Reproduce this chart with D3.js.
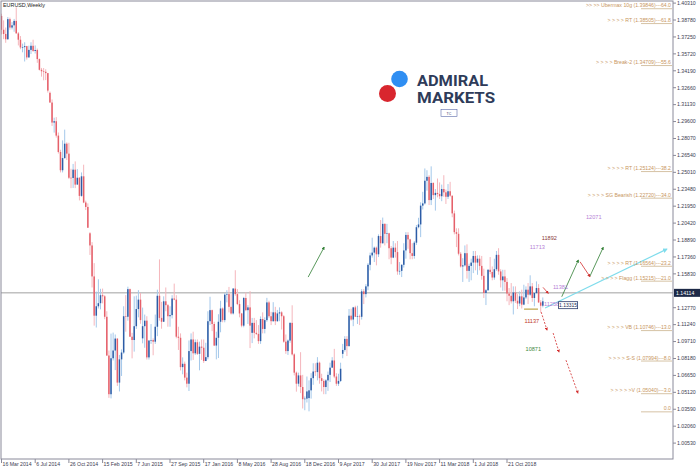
<!DOCTYPE html>
<meta charset="utf-8">
<style>
body { margin: 0; background: #fff; }
svg { display: block; font-family: "Liberation Sans", Arial, sans-serif; }
.ylab, .xlab { fill: #3c3c50; font-size: 5.2px; }
.fib { fill: #c8965e; font-size: 5.2px; }
</style>
<body>
<script src="https://cdn.jsdelivr.net/npm/d3@7"></script>
<script>
// EURUSD weekly bars, first bar = week of 16 Mar 2014
var open = [
 1.3915,1.3790,1.3752,1.3704,1.3886,1.3810,1.3830,1.3870,1.3757,1.3700,
 1.3630,1.3633,1.3642,1.3540,1.3608,1.3645,1.3598,1.3607,1.3525,1.3428,
 1.3415,1.3410,1.3398,1.3220,1.3132,1.2951,1.2963,1.2833,1.2685,1.2520,
 1.2630,1.2760,1.2670,1.2452,1.2450,1.2525,1.2390,1.2452,1.2288,1.2465,
 1.2228,1.2188,1.1950,1.1840,1.1560,1.1205,1.1290,1.1318,1.1390,1.1380,
 1.1195,1.0845,1.0495,1.0820,1.0890,1.0998,1.0600,1.0810,1.0872,1.1200,
 1.1195,1.1445,1.1015,1.0985,1.1110,1.1265,1.1350,1.1000,1.1110,1.1160,
 1.0828,1.0980,1.0985,1.0970,1.1105,1.1385,1.1185,1.1150,1.1335,1.1300,
 1.1200,1.1210,1.1360,1.1350,1.1015,1.1005,1.0740,1.0770,1.0645,1.0590,
 1.0885,1.0990,1.0865,1.0965,1.0860,1.0925,1.0915,1.0795,1.0830,1.1155,
 1.1255,1.1130,1.0935,1.1005,1.1150,1.1270,1.1165,1.1395,1.1400,1.1285,
 1.1225,1.1450,1.1400,1.1310,1.1225,1.1115,1.1365,1.1255,1.1280,1.1050,
 1.1140,1.1050,1.1040,1.0975,1.1175,1.1085,1.1165,1.1325,1.1200,1.1155,
 1.1235,1.1155,1.1225,1.1235,1.1200,1.0970,1.0885,1.0980,1.1140,1.0855,
 1.0690,1.0590,1.0665,1.0560,1.0450,1.0455,1.0460,1.0530,1.0640,1.0700,
 1.0695,1.0780,1.0640,1.0615,1.0560,1.0620,1.0670,1.0735,1.0800,1.0655,
 1.0590,1.0615,1.0860,1.0895,1.0995,1.0930,1.1205,1.1170,1.1280,1.1195,
 1.1200,1.1195,1.1425,1.1400,1.1470,1.1665,1.1750,1.1775,1.1820,1.1760,
 1.1925,1.1860,1.2035,1.1945,1.1950,1.1815,1.1730,1.1820,1.1780,1.1605,
 1.1610,1.1665,1.1795,1.1935,1.1895,1.1770,1.1745,1.1865,1.2005,1.2030,
 1.2200,1.2220,1.2425,1.2460,1.2250,1.2405,1.2295,1.2315,1.2305,1.2285,
 1.2350,1.2320,1.2280,1.2330,1.2290,1.2130,1.1960,1.1945,1.1765,1.1650,
 1.1660,1.1770,1.1610,1.1655,1.1685,1.1745,1.1685,1.1720,1.1655,1.1565,
 1.1410,1.1435,1.1620,1.1600,1.1550,1.1625,1.1755,1.1605,1.1525,1.1560,
 1.1510,1.1405,1.1385,1.1335,1.1415,1.1340,1.1315,1.1380,1.1305,1.1370,
 1.1440,1.1395,1.1470,1.1365,1.1410,1.1455,1.1325,1.1295];
var high = [
 1.3935,1.3875,1.3810,1.3905,1.3900,1.3859,1.3888,1.3993,1.3770,1.3733,
 1.3665,1.3677,1.3645,1.3646,1.3677,1.3700,1.3648,1.3620,1.3530,1.3445,
 1.3444,1.3433,1.3400,1.3232,1.3160,1.2995,1.3000,1.2861,1.2705,1.2790,
 1.2887,1.2772,1.2768,1.2533,1.2577,1.2600,1.2530,1.2457,1.2500,1.2570,
 1.2245,1.2220,1.1960,1.1870,1.1680,1.1423,1.1534,1.1448,1.1450,1.1390,
 1.1245,1.0890,1.1043,1.1052,1.1035,1.1000,1.0850,1.0900,1.1290,1.1391,
 1.1467,1.1450,1.1050,1.1380,1.1386,1.1436,1.1410,1.1278,1.1215,1.1200,
 1.0985,1.1129,1.1000,1.1215,1.1440,1.1714,1.1330,1.1380,1.1460,1.1310,
 1.1290,1.1390,1.1495,1.1390,1.1105,1.1045,1.0828,1.0790,1.0690,1.0981,
 1.1045,1.1060,1.0990,1.0990,1.0970,1.0990,1.0990,1.0960,1.1245,1.1376,
 1.1260,1.1150,1.1060,1.1218,1.1340,1.1280,1.1410,1.1435,1.1465,1.1400,
 1.1455,1.1616,1.1445,1.1345,1.1230,1.1375,1.1415,1.1300,1.1427,1.1185,
 1.1185,1.1165,1.1120,1.1198,1.1235,1.1190,1.1366,1.1340,1.1240,1.1327,
 1.1285,1.1257,1.1280,1.1245,1.1210,1.1035,1.0990,1.1145,1.1299,1.0865,
 1.0700,1.0690,1.0875,1.0670,1.0475,1.0655,1.0620,1.0685,1.0775,1.0775,
 1.0830,1.0790,1.0680,1.0630,1.0630,1.0700,1.0780,1.0830,1.0905,1.0685,
 1.0680,1.0780,1.0950,1.1020,1.1020,1.1265,1.1268,1.1285,1.1295,1.1295,
 1.1215,1.1445,1.1445,1.1490,1.1680,1.1775,1.1910,1.1830,1.1830,1.1940,
 1.2070,1.2092,1.2040,1.2035,1.1955,1.1835,1.1880,1.1860,1.1880,1.1690,
 1.1670,1.1860,1.1960,1.1960,1.1900,1.1860,1.1880,1.2025,1.2090,1.2230,
 1.2325,1.2536,1.2520,1.2475,1.2555,1.2410,1.2350,1.2445,1.2410,1.2390,
 1.2475,1.2345,1.2395,1.2415,1.2290,1.2155,1.1995,1.1995,1.1780,1.1725,
 1.1840,1.1850,1.1675,1.1720,1.1790,1.1790,1.1750,1.1750,1.1745,1.1630,
 1.1445,1.1625,1.1735,1.1650,1.1720,1.1790,1.1815,1.1625,1.1620,1.1620,
 1.1545,1.1455,1.1500,1.1470,1.1470,1.1400,1.1425,1.1440,1.1485,1.1470,
 1.1500,1.1570,1.1500,1.1415,1.1515,1.1490,1.1345,1.1370];
var low = [
 1.3748,1.3705,1.3672,1.3700,1.3790,1.3793,1.3772,1.3757,1.3648,1.3614,
 1.3586,1.3503,1.3520,1.3537,1.3571,1.3590,1.3575,1.3491,1.3422,1.3366,
 1.3333,1.3335,1.3222,1.3131,1.2920,1.2860,1.2815,1.2671,1.2500,1.2500,
 1.2623,1.2612,1.2440,1.2358,1.2360,1.2358,1.2390,1.2247,1.2280,1.2222,
 1.2160,1.2000,1.1754,1.1460,1.1115,1.1098,1.1270,1.1262,1.1316,1.1173,
 1.0840,1.0462,1.0457,1.0800,1.0713,1.0570,1.0520,1.0660,1.0860,1.1060,
 1.1160,1.1013,1.0819,1.0880,1.1085,1.1190,1.1132,1.0955,1.0915,1.0808,
 1.0808,1.0950,1.0847,1.0950,1.1020,1.1160,1.1087,1.1150,1.1245,1.1105,
 1.1105,1.1180,1.1345,1.1000,1.0895,1.0710,1.0675,1.0620,1.0557,1.0524,
 1.0800,1.0805,1.0850,1.0850,1.0711,1.0805,1.0778,1.0795,1.0810,1.1120,
 1.1065,1.0930,1.0810,1.0822,1.1055,1.1145,1.1145,1.1325,1.1235,1.1215,
 1.1215,1.1385,1.1300,1.1190,1.1100,1.1100,1.1245,1.1130,1.0912,1.0957,
 1.1000,1.1030,1.0950,1.0950,1.1045,1.1045,1.1150,1.1185,1.1120,1.1150,
 1.1120,1.1150,1.1155,1.1080,1.0960,1.0860,1.0850,1.0960,1.0845,1.0665,
 1.0518,1.0565,1.0505,1.0366,1.0350,1.0420,1.0340,1.0455,1.0580,1.0660,
 1.0620,1.0590,1.0520,1.0495,1.0495,1.0525,1.0605,1.0735,1.0640,1.0570,
 1.0570,1.0605,1.0820,1.0880,1.0840,1.0925,1.1160,1.1110,1.1195,1.1130,
 1.1120,1.1170,1.1310,1.1370,1.1435,1.1615,1.1730,1.1690,1.1660,1.1735,
 1.1820,1.1855,1.1840,1.1860,1.1715,1.1670,1.1725,1.1730,1.1575,1.1575,
 1.1554,1.1640,1.1720,1.1810,1.1715,1.1715,1.1720,1.1845,1.1995,1.1915,
 1.2165,1.2210,1.2335,1.2205,1.2205,1.2260,1.2155,1.2275,1.2260,1.2240,
 1.2280,1.2215,1.2260,1.2280,1.2095,1.1940,1.1825,1.1750,1.1640,1.1510,
 1.1650,1.1540,1.1510,1.1525,1.1590,1.1615,1.1575,1.1615,1.1530,1.1365,
 1.1301,1.1430,1.1580,1.1525,1.1530,1.1610,1.1575,1.1460,1.1430,1.1430,
 1.1335,1.1300,1.1315,1.1216,1.1320,1.1265,1.1290,1.1270,1.1300,1.1355,
 1.1310,1.1385,1.1330,1.1290,1.1400,1.1320,1.1235,1.1280];
var close = [
 1.3790,1.3752,1.3704,1.3886,1.3810,1.3830,1.3870,1.3757,1.3700,1.3630,
 1.3633,1.3642,1.3540,1.3608,1.3645,1.3598,1.3607,1.3525,1.3428,1.3415,
 1.3410,1.3398,1.3240,1.3132,1.2951,1.2963,1.2833,1.2685,1.2520,1.2630,
 1.2760,1.2670,1.2452,1.2450,1.2525,1.2390,1.2452,1.2288,1.2465,1.2228,
 1.2188,1.2000,1.1840,1.1560,1.1205,1.1290,1.1318,1.1390,1.1380,1.1195,
 1.0845,1.0495,1.0820,1.0890,1.0998,1.0600,1.0810,1.0872,1.1200,1.1195,
 1.1445,1.1015,1.0985,1.1110,1.1265,1.1350,1.1165,1.1110,1.1160,1.0828,
 1.0980,1.0985,1.0970,1.1105,1.1385,1.1185,1.1150,1.1335,1.1300,1.1200,
 1.1210,1.1360,1.1350,1.1015,1.1005,1.0740,1.0770,1.0645,1.0590,1.0885,
 1.0990,1.0865,1.0965,1.0860,1.0925,1.0915,1.0795,1.0830,1.1155,1.1255,
 1.1130,1.0935,1.1005,1.1150,1.1270,1.1165,1.1395,1.1400,1.1285,1.1225,
 1.1450,1.1400,1.1310,1.1225,1.1115,1.1365,1.1255,1.1280,1.1115,1.1140,
 1.1050,1.1040,1.0975,1.1175,1.1085,1.1165,1.1325,1.1200,1.1155,1.1235,
 1.1155,1.1225,1.1235,1.1200,1.0970,1.0885,1.0980,1.1140,1.0855,1.0690,
 1.0590,1.0665,1.0560,1.0450,1.0455,1.0520,1.0530,1.0640,1.0700,1.0695,
 1.0780,1.0640,1.0615,1.0560,1.0620,1.0670,1.0735,1.0800,1.0655,1.0590,
 1.0615,1.0725,1.0895,1.0995,1.0930,1.1205,1.1170,1.1280,1.1195,1.1200,
 1.1195,1.1425,1.1400,1.1470,1.1665,1.1750,1.1775,1.1820,1.1760,1.1925,
 1.1860,1.2035,1.1945,1.1950,1.1815,1.1730,1.1820,1.1780,1.1605,1.1610,
 1.1665,1.1795,1.1935,1.1895,1.1770,1.1745,1.1865,1.2005,1.2030,1.2200,
 1.2220,1.2425,1.2460,1.2250,1.2405,1.2295,1.2315,1.2305,1.2285,1.2350,
 1.2320,1.2280,1.2330,1.2290,1.2130,1.1960,1.1945,1.1765,1.1650,1.1660,
 1.1770,1.1610,1.1655,1.1685,1.1745,1.1685,1.1720,1.1655,1.1565,1.1410,
 1.1435,1.1620,1.1600,1.1550,1.1625,1.1755,1.1605,1.1525,1.1560,1.1510,
 1.1405,1.1385,1.1335,1.1415,1.1340,1.1315,1.1380,1.1305,1.1370,1.1440,
 1.1395,1.1470,1.1365,1.1410,1.1455,1.1325,1.1295,1.1335];

// price axis labels (1.14300 sits under the price box, so it is left out)
var yTicks = [1.40310,1.38780,1.37250,1.35720,1.34190,1.32660,1.31130,1.29600,1.28070,
  1.26540,1.25010,1.23480,1.21950,1.20420,1.18890,1.17360,1.15830,1.12770,
  1.11240,1.09710,1.08180,1.06650,1.05120,1.03590,1.02060,1.00530];
// date axis labels
var xTicks = ["16 Mar 2014","6 Jul 2014","26 Oct 2014","15 Feb 2015","7 Jun 2015",
  "27 Sep 2015","17 Jan 2016","8 May 2016","28 Aug 2016","18 Dec 2016","9 Apr 2017",
  "30 Jul 2017","19 Nov 2017","11 Mar 2018","1 Jul 2018","21 Oct 2018"];

// fibonacci level labels on the right
var fibText = [">> >> Ubermax 10g","> > > > RT","> > > > Break-2","> > > > RT","> > > > SG Bearish",
  "> > > > RT","> > > > Flagg","> > > > VB","> > > > S-S","> > > > >V"];
var fibPrice = [1.39846,1.38505,1.34709,1.25124,1.22720,1.16564,1.15215,1.10746,1.07994,1.05040];
var fibPct = ["64.0","61.8","55.6","38.2","34.0","23.2","21.0","13.0","8.0","3.0"];
var fibZero = 1.0340;

// target labels (week index from first bar, price)
var tgtText = ["11892","11713","12071","11381","11258","11137","10871"];
var tgtWeek = [256.5,250.8,277.5,261.8,257.6,248.3,248.8];
var tgtPrice = [1.1885,1.1810,1.2080,1.1450,1.1290,1.1140,1.0885];
var tgtColor = ["#8a3a3a","#b57fd6","#b57fd6","#b57fd6","#b57fd6","#c0392b","#3f8a3f"];

// arrows: [week0, price0, week1, price1]
var arrows = [
  {c:"green", d:[145.6,1.1554,153.2,1.1825]},
  {c:"green", d:[266.0,1.1376,273.9,1.1708]},
  {c:"red",   d:[274.7,1.1692,279.4,1.1557]},
  {c:"green", d:[279.4,1.1563,285.7,1.1823]},
  {c:"cyan",  d:[258.1,1.1274,315.9,1.1807]},
  {c:"red",   d:[256.2,1.1238,259.0,1.1075], dash:true},
  {c:"red",   d:[261.9,1.1048,264.7,1.0876], dash:true},
  {c:"red",   d:[268.0,1.0803,273.7,1.0504], dash:true},
  {c:"red",   d:[257.1,1.1461,259.6,1.1407]}
];
var hLinePrice = 1.14114;
var goldLine = [248.1,254.7,1.1264];
var boxPrice = "1.13315";

var W = 700, H = 471, plotR = 673, plotB = 459;
var WEEK = 7 * 864e5;
var t0 = new Date(2014, 2, 16);

var x = d3.scaleTime()
    .domain([t0, new Date(2018, 9, 21)])
    .range([1.5, 507]);
var y = d3.scaleLinear()
    .domain([1.00530, 1.40310])
    .range([443.1, 3.1]);

function wx(i) { return x(new Date(+t0 + i * WEEK)); }

var svg = d3.select("body").append("svg")
    .attr("width", W)
    .attr("height", H);

svg.append("rect").attr("width", W).attr("height", H).attr("fill", "#fff");

var defs = svg.append("defs");
var cols = {green: "#2e7d32", red: "#d32f2f", cyan: "#7fdcec"};
Object.keys(cols).forEach(function(k) {
  defs.append("marker")
      .attr("id", "ah-" + k)
      .attr("viewBox", "0 0 10 10")
      .attr("refX", 8).attr("refY", 5)
      .attr("markerWidth", 4).attr("markerHeight", 4)
      .attr("orient", "auto")
    .append("path")
      .attr("d", "M0,0L10,5L0,10z")
      .attr("fill", cols[k]);
});
defs.append("clipPath").attr("id", "plot")
  .append("rect").attr("x", 1).attr("y", 1).attr("width", plotR - 1).attr("height", plotB - 1);

// logo
var logo = svg.append("g");
logo.append("circle").attr("cx", 399.5).attr("cy", 79).attr("r", 8.3).attr("fill", "#2f8ef2");
logo.append("circle").attr("cx", 387.5).attr("cy", 93.5).attr("r", 8.5).attr("fill", "#d8262e");
logo.append("text").attr("x", 417).attr("y", 85.5).text("ADMIRAL")
    .attr("font-family", "Roboto, sans-serif").attr("font-weight", 700)
    .attr("font-size", 14.5).attr("fill", "#2e3b59")
    .attr("textLength", 71).attr("lengthAdjust", "spacingAndGlyphs");
logo.append("text").attr("x", 417).attr("y", 103).text("MARKETS")
    .attr("font-family", "Roboto, sans-serif").attr("font-weight", 700)
    .attr("font-size", 14.5).attr("fill", "#2e3b59")
    .attr("textLength", 78).attr("lengthAdjust", "spacingAndGlyphs");
logo.append("rect").attr("x", 441).attr("y", 109.5).attr("width", 16).attr("height", 7)
    .attr("fill", "none").attr("stroke", "#5b6aa8").attr("stroke-width", 0.6);
logo.append("text").attr("x", 449).attr("y", 114.6).attr("text-anchor", "middle")
    .attr("font-size", 3.6).attr("fill", "#33406a").text("TC");

var plot = svg.append("g").attr("clip-path", "url(#plot)");

// horizontal line
plot.append("line")
    .attr("x1", 1).attr("x2", plotR)
    .attr("y1", y(hLinePrice)).attr("y2", y(hLinePrice))
    .attr("stroke", "#a0a0a0").attr("stroke-width", 1);

// candles
var bars = d3.range(open.length).map(function(i) {
  return {i: i, o: open[i], h: high[i], l: low[i], c: close[i]};
});
var cg = plot.append("g");
cg.selectAll(".wick").data(bars).enter().append("line")
    .attr("x1", function(d) { return wx(d.i); })
    .attr("x2", function(d) { return wx(d.i); })
    .attr("y1", function(d) { return y(d.h); })
    .attr("y2", function(d) { return y(d.l); })
    .attr("stroke", function(d) { return d.c >= d.o ? "#a4c8ea" : "#f5b6bc"; })
    .attr("stroke-width", 1);
cg.selectAll(".body").data(bars).enter().append("rect")
    .attr("x", function(d) { return wx(d.i) - 0.75; })
    .attr("width", 1.5)
    .attr("y", function(d) { return y(Math.max(d.o, d.c)); })
    .attr("height", function(d) { return Math.max(0.6, Math.abs(y(d.o) - y(d.c))); })
    .attr("fill", function(d) { return d.c >= d.o ? "#2d5ca6" : "#e5606a"; });

// fib levels
var fg = svg.append("g");
fibPrice.concat([fibZero]).forEach(function(p) {
  fg.append("line")
      .attr("x1", 641).attr("x2", 672)
      .attr("y1", y(p) + 0.5).attr("y2", y(p) + 0.5)
      .attr("stroke", "#d6c3a5").attr("stroke-width", 1);
});
fibPrice.forEach(function(p, k) {
  fg.append("text").attr("class", "fib")
      .attr("x", 671).attr("y", y(p) - 1).attr("text-anchor", "end")
      .text(fibText[k] + " (" + p.toFixed(5) + ")---" + fibPct[k]);
});
fg.append("text").attr("class", "fib")
    .attr("x", 671).attr("y", y(fibZero) - 1).attr("text-anchor", "end").text("0.0");

// gold line
plot.append("line")
    .attr("x1", wx(goldLine[0])).attr("x2", wx(goldLine[1]))
    .attr("y1", y(goldLine[2])).attr("y2", y(goldLine[2]))
    .attr("stroke", "#c9b56a").attr("stroke-width", 1.5);

// arrows
arrows.forEach(function(a) {
  plot.append("line")
      .attr("x1", wx(a.d[0])).attr("y1", y(a.d[1]))
      .attr("x2", wx(a.d[2])).attr("y2", y(a.d[3]))
      .attr("stroke", cols[a.c]).attr("stroke-width", a.c == "cyan" ? 1.2 : 0.8)
      .attr("stroke-dasharray", a.dash ? "2,1.5" : null)
      .attr("marker-end", "url(#ah-" + a.c + ")");
});

// target labels
tgtText.forEach(function(t, k) {
  plot.append("text")
      .attr("x", wx(tgtWeek[k])).attr("y", y(tgtPrice[k]))
      .attr("font-size", 5.6).attr("fill", tgtColor[k]).text(t);
});

// price box near last bar
var bx = wx(264.5), by = y(1.1300);
svg.append("rect").attr("x", bx).attr("y", by - 3.5).attr("width", 19).attr("height", 7)
    .attr("fill", "#fff").attr("stroke", "#2b3a6b").attr("stroke-width", 0.8);
svg.append("text").attr("x", bx + 9.5).attr("y", by + 1.8).attr("text-anchor", "middle")
    .attr("font-size", 5).attr("fill", "#1e2a50").text(boxPrice);

// frame
svg.append("rect").attr("x", 1).attr("y", 1).attr("width", plotR - 1).attr("height", plotB - 1)
    .attr("fill", "none").attr("stroke", "#8a8a9a").attr("stroke-width", 1);

// price axis
var ya = svg.append("g");
yTicks.forEach(function(v) {
  ya.append("line").attr("x1", plotR).attr("x2", plotR + 3)
      .attr("y1", y(v)).attr("y2", y(v)).attr("stroke", "#8a8a9a");
  ya.append("text").attr("class", "ylab").attr("x", plotR + 4).attr("y", y(v) + 1.8)
      .text(v.toFixed(5));
});
ya.append("rect").attr("x", plotR + 1).attr("y", y(hLinePrice) - 4).attr("width", 26).attr("height", 8)
    .attr("fill", "#1d2947");
ya.append("text").attr("x", plotR + 3).attr("y", y(hLinePrice) + 2)
    .attr("font-size", 5.2).attr("fill", "#fff").text(hLinePrice.toFixed(5));

// date axis
var parseD = d3.timeParse("%d %b %Y");
var xa = svg.append("g");
xTicks.forEach(function(s) {
  var px = x(parseD(s));
  xa.append("line").attr("x1", px).attr("x2", px).attr("y1", plotB).attr("y2", plotB + 4)
      .attr("stroke", "#8a8a9a");
  xa.append("text").attr("class", "xlab").attr("x", px + 1).attr("y", plotB + 7).text(s);
});

// title
svg.append("text").attr("x", 3).attr("y", 7).attr("font-size", 5.4).attr("fill", "#222")
    .text("EURUSD,Weekly");
</script>
</body>
